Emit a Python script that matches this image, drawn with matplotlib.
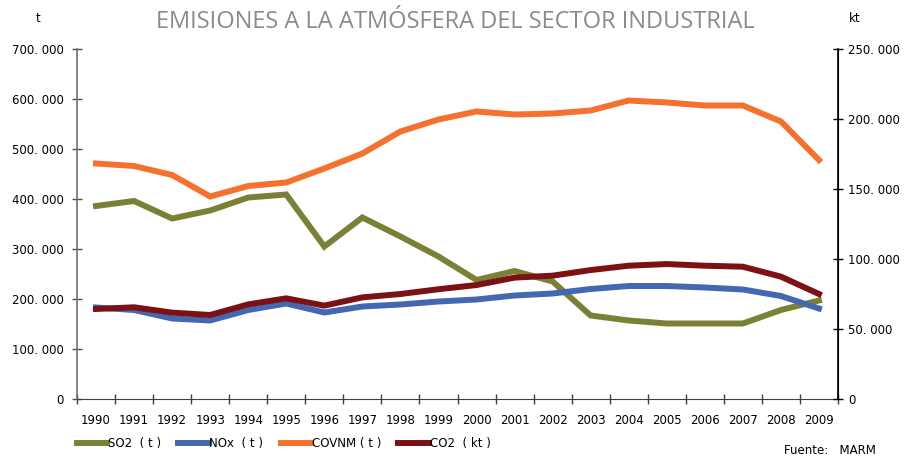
import numpy as np
import matplotlib.pyplot as plt
from matplotlib.ticker import FixedLocator, FuncFormatter

years = list(range(1990, 2010))

# toneladas (eje izquierdo)
so2 = [386000, 396000, 361000, 377000, 403000, 409000, 305000, 363000, 325000, 285000,
       238000, 256000, 235000, 167000, 157000, 151000, 151000, 151000, 178000, 197000]
nox = [183000, 178000, 161000, 157000, 178000, 191000, 173000, 185000, 189000, 195000,
       199000, 207000, 211000, 220000, 226000, 226000, 223000, 219000, 206000, 181000]
covnm = [471000, 466000, 448000, 405000, 426000, 433000, 461000, 491000, 535000, 559000,
         575000, 569000, 571000, 577000, 597000, 593000, 587000, 587000, 555000, 478000]
# kilotoneladas (eje derecho)
co2 = [64300, 65500, 61700, 60000, 67600, 71900, 66700, 72600, 75000, 78400,
       81400, 86700, 88100, 92100, 95200, 96400, 95200, 94500, 87400, 75000]

labels = ['SO2  ( t )', 'NOx  ( t )', 'COVNM ( t )', 'CO2  ( kt )']
colors = ['#7b8134', '#4467b2', '#f4712e', '#7b1114']

fig = plt.figure(figsize=(9.05, 4.59), dpi=100)
ax = fig.add_axes([77/905, 1-399/459, (838-77)/905, 350/459])
ax2 = ax.twinx()

x = np.arange(len(years))
lw = 4.3
l1, = ax.plot(x, so2, color=colors[0], lw=lw, solid_joinstyle='miter')
l2, = ax.plot(x, nox, color=colors[1], lw=lw, solid_joinstyle='miter')
l3, = ax.plot(x, covnm, color=colors[2], lw=lw, solid_joinstyle='miter')
l4, = ax2.plot(x, co2, color=colors[3], lw=lw, solid_joinstyle='miter')

ax.set_xlim(-0.5, len(years) - 0.5)
ax.set_ylim(0, 700000)
ax2.set_ylim(0, 250000)

def fmt(v, pos):
    if v == 0:
        return '0'
    return '{:d}. {:03d}'.format(int(v) // 1000, int(v) % 1000)

ax.yaxis.set_major_locator(FixedLocator(np.arange(0, 700001, 100000)))
ax.yaxis.set_major_formatter(FuncFormatter(fmt))
ax2.yaxis.set_major_locator(FixedLocator(np.arange(0, 250001, 50000)))
ax2.yaxis.set_major_formatter(FuncFormatter(fmt))

ax.set_xticks(np.arange(-0.5, len(years), 1))
ax.set_xticklabels([])
ax.set_xticks(x, minor=True)
ax.set_xticklabels([str(y) for y in years], minor=True)

ax.tick_params(axis='x', which='major', direction='inout', length=7, width=1, color='#404040')
ax.tick_params(axis='x', which='minor', length=0, pad=11, labelsize=8.5)
ax.tick_params(axis='y', direction='inout', length=7, width=1, color='#505050', labelsize=8.5, pad=6)
ax2.tick_params(axis='y', direction='inout', length=7, width=1, color='black', labelsize=8.5, pad=4)

for a in (ax, ax2):
    a.spines['top'].set_visible(False)
ax.spines['left'].set_color('#707070')
ax.spines['left'].set_linewidth(1.2)
ax.spines['bottom'].set_color('#404040')
ax2.spines['right'].set_color('black')
ax2.spines['right'].set_linewidth(1.2)
ax2.spines['left'].set_visible(False)
ax2.spines['bottom'].set_visible(False)

fig.text(455/905, 1-22/459, 'EMISIONES A LA ATMÓSFERA DEL SECTOR INDUSTRIAL',
         ha='center', va='center', fontsize=17, color='#8a8b90', family='Open Sans')
fig.text(38/905, 1-18/459, 't', ha='center', va='center', fontsize=8.5)
fig.text(855/905, 1-18/459, 'kt', ha='center', va='center', fontsize=8.5)
fig.text(876/905, 1-451/459, 'Fuente:   MARM', ha='right', va='center', fontsize=8.5)

fig.legend([l1, l2, l3, l4], labels, loc='center left', bbox_to_anchor=(66/905, 1-444/459),
           ncol=4, frameon=False, handlelength=2.6, handletextpad=0.05, columnspacing=1.45,
           fontsize=8.5)

fig.savefig('out.png', dpi=100)
